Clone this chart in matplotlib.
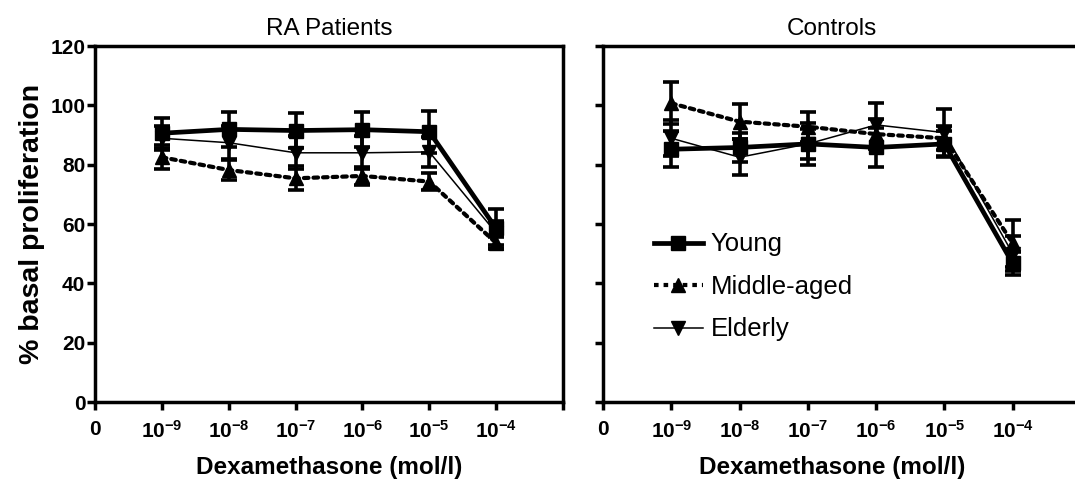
import matplotlib
matplotlib.use("Agg")
import matplotlib.pyplot as plt
from matplotlib.lines import Line2D

plt.rcParams['font.family'] = ['Liberation Sans', 'DejaVu Sans']
plt.rcParams['mathtext.fontset'] = 'custom'
plt.rcParams['mathtext.rm'] = 'Liberation Sans:bold'
plt.rcParams['mathtext.bf'] = 'Liberation Sans:bold'
plt.rcParams['mathtext.it'] = 'Liberation Sans:bold'
plt.rcParams['mathtext.default'] = 'rm'

doses = [1, 2, 3, 4, 5, 6]
tick_labels = [r'$0$', r'$10^{-9}$', r'$10^{-8}$', r'$10^{-7}$', r'$10^{-6}$', r'$10^{-5}$', r'$10^{-4}$']
y_ticks = [0, 20, 40, 60, 80, 100, 120]

ra_young = [90.6, 91.9, 91.5, 91.8, 91.1, 58.5]
ra_young_err = [5.0, 6.0, 6.0, 6.0, 7.0, 6.5]
ra_middle = [82.5, 78.2, 75.4, 76.2, 74.3, 53.6]
ra_middle_err = [4.0, 3.5, 4.0, 3.0, 3.0, 2.0]
ra_elderly = [88.9, 87.4, 84.0, 84.0, 84.3, 57.0]
ra_elderly_err = [4.0, 5.5, 5.5, 5.5, 5.0, 4.0]

ct_young = [85.2, 85.8, 87.0, 85.8, 87.0, 46.7]
ct_young_err = [6.0, 5.0, 5.0, 6.5, 4.5, 4.0]
ct_middle = [100.7, 94.5, 92.8, 90.3, 88.9, 53.5]
ct_middle_err = [7.0, 6.0, 5.0, 5.0, 4.0, 8.0]
ct_elderly = [88.9, 82.5, 87.0, 93.4, 90.8, 50.0]
ct_elderly_err = [6.0, 6.0, 7.0, 7.5, 8.0, 6.0]

series_names = ['Young', 'Middle-aged', 'Elderly']

fig = plt.figure(figsize=(10.75, 4.86), dpi=100)
axL = fig.add_axes([95/1075, 84/486, 468/1075, 356/486])
axR = fig.add_axes([603/1075, 84/486, 478/1075, 356/486])

styles = [
    dict(marker='s', ls='-', lw=3.4, ms=10),
    dict(marker='^', ls=(0, (1.1, 1.2)), lw=3.0, ms=10),
    dict(marker='v', ls='-', lw=1.1, ms=10),
]

def draw(ax, data, title, show_ylabels, title_x=0.5):
    for (vals, errs), st in zip(data, styles):
        ax.errorbar(doses, vals, yerr=errs, color='black', capsize=6, capthick=2.6,
                    elinewidth=2.6, marker=st['marker'], ms=st['ms'], ls=st['ls'],
                    lw=st['lw'], mec='black', mfc='black', dash_capstyle='round')
    ax.set_xlim(0, 7)
    ax.set_ylim(0, 120)
    ax.set_xticks([0, 1, 2, 3, 4, 5, 6, 7])
    ax.set_xticklabels(tick_labels + [''])
    ax.set_yticks(y_ticks)
    if show_ylabels:
        ax.set_yticklabels([str(v) for v in y_ticks])
        ax.set_ylabel('% basal proliferation', fontsize=20.5, fontweight='bold', labelpad=4)
    else:
        ax.set_yticklabels([])
    for s in ax.spines.values():
        s.set_linewidth(2.5)
    ax.tick_params(axis='both', direction='out', length=6, width=2.5, labelsize=15)
    ax.tick_params(axis='x', pad=7)
    ax.tick_params(axis='y', pad=1)
    for lab in ax.get_yticklabels() + ax.get_xticklabels():
        lab.set_fontweight('bold')
    ax.set_xlabel('Dexamethasone (mol/l)', fontsize=17.5, fontweight='bold', labelpad=10)
    ax.set_title(title, fontsize=17.5, pad=8, x=title_x)

draw(axL, [(ra_young, ra_young_err), (ra_middle, ra_middle_err), (ra_elderly, ra_elderly_err)],
     'RA Patients', True)
draw(axR, [(ct_young, ct_young_err), (ct_middle, ct_middle_err), (ct_elderly, ct_elderly_err)],
     'Controls', False, title_x=0.479)
axR.xaxis.label.set_x(0.479)

handles = [Line2D([0], [0], color='black', marker=st['marker'], ms=st['ms'], ls=st['ls'],
                  lw=st['lw']) for st in styles]
axR.legend(handles, series_names, loc='upper left', bbox_to_anchor=(0.085, 0.505),
           frameon=False, fontsize=18.5, handlelength=1.9, labelspacing=0.72,
           handletextpad=0.3, borderaxespad=0.0)

fig.savefig('out.png', dpi=100)
